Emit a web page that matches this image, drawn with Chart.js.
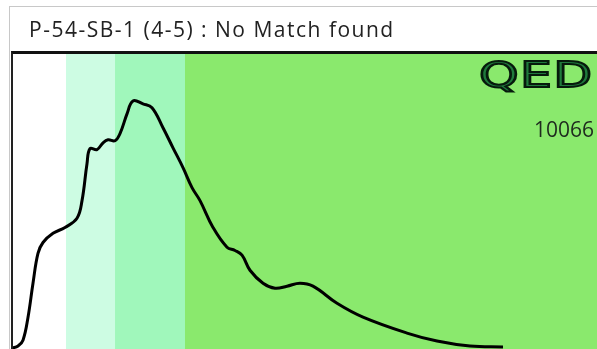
<!DOCTYPE html>
<html>
<head>
<meta charset="utf-8">
<script src="https://cdn.jsdelivr.net/npm/chart.js@4"></script>
<style>
  html, body { margin: 0; padding: 0; width: 597px; height: 349px; overflow: hidden; background: #fff; }
  #wrap { position: relative; width: 597px; height: 349px; }
  #chart { position: absolute; left: 0; top: 0; }
  #outer { position: absolute; left: 9px; top: 6px; width: 600px; height: 360px;
           border-top: 1px solid #c8c8c8; border-left: 1px solid #c8c8c8; }
  #title { position: absolute; left: 29px; top: 15px; font-family: "Open Sans", sans-serif;
           font-size: 21px; letter-spacing: 1.5px; color: #222; white-space: nowrap; }
  #frame { position: absolute; left: 11px; top: 51px; width: 600px; height: 320px;
           border-top: 3px solid #111; border-left: 2px solid #222; pointer-events: none; }
  #logo { position: absolute; left: 479px; top: 54px; font-family: "DejaVu Sans", sans-serif;
          font-weight: normal; font-size: 36px; color: #1f7a3c; -webkit-text-stroke: 2px #061a0c;
          transform: scaleX(1.4); transform-origin: left top; letter-spacing: 1px; white-space: nowrap; }
  #code { position: absolute; left: 534px; top: 115px; font-family: "Open Sans", sans-serif;
          font-size: 21px; color: #1e2a1e; }
</style>
</head>
<body>
<div id="wrap">
  <div id="outer"></div>
  <canvas id="chart" width="597" height="349"></canvas>
  <div id="frame"></div>
  <div id="title">P-54-SB-1 (4-5) : No Match found</div>
  <div id="logo">QED</div>
  <div id="code">10066</div>
</div>
<script>
// значения (x - условные единицы, y - % от высоты)
const xValues = [0, 1.03, 1.88, 2.74, 3.59, 4.44, 5.30, 7.01, 9.06, 11.11, 11.97, 12.82, 13.33, 14.53,
    15.56, 16.41, 17.61, 18.46, 19.66, 20.68, 22.39, 23.93, 25.81, 27.52, 29.23, 30.77, 32.14,
    34.36, 36.75, 38.12, 39.32, 40.68, 42.91, 44.96, 47.01, 49.23, 51.45, 55.56, 60.0, 67.52,
    72.65, 78.29, 83.93];
const yValues = [0.3, 1.0, 3.0, 10.8, 22.3, 32.4, 36.1, 39.2, 41.2, 44.3, 50.3, 62.8, 67.9, 67.6,
    69.9, 70.9, 70.6, 73.0, 79.7, 84.1, 83.1, 81.8, 75.0, 68.2, 61.5, 54.7, 50.3,
    41.2, 34.5, 33.4, 31.8, 26.7, 22.3, 20.6, 21.3, 22.3, 21.3, 15.5, 10.8, 5.4,
    2.7, 1.0, 0.7];

// полосы фона
const bandStarts = [0, 9.23, 17.61, 29.57];
const bandEnds = [9.23, 17.61, 29.57, 100];
const bandColors = ['#ffffff', '#cdfce3', '#a0f7bb', '#8ae96d'];

const points = xValues.map((x, i) => ({ x: x, y: yValues[i] }));

// Плагин для закраски полос
const bandsPlugin = {
    id: 'bands',
    beforeDatasetsDraw(chart) {
        const ctx = chart.ctx;
        const xs = chart.scales.x;
        const area = chart.chartArea;
        ctx.save();
        for (let i = 0; i < bandStarts.length; i++) {
            const left = xs.getPixelForValue(bandStarts[i]);
            const right = xs.getPixelForValue(bandEnds[i]);
            ctx.fillStyle = bandColors[i];
            ctx.fillRect(left, area.top, right - left, area.bottom - area.top);
        }
        ctx.restore();
    }
};

new Chart(document.getElementById('chart').getContext('2d'), {
    type: 'line',
    data: {
        datasets: [{
            data: points,
            borderColor: '#000',
            borderWidth: 3,
            pointRadius: 0,
            tension: 0.4,
            fill: false
        }]
    },
    options: {
        responsive: false,
        animation: false,
        layout: { padding: { left: 12, top: 54, right: 0, bottom: 0 } },
        plugins: { legend: { display: false }, tooltip: { enabled: false } },
        scales: {
            x: { type: 'linear', min: 0, max: 100, display: false },
            y: { min: 0, max: 100, display: false }
        }
    },
    plugins: [bandsPlugin]
});
</script>
</body>
</html>
